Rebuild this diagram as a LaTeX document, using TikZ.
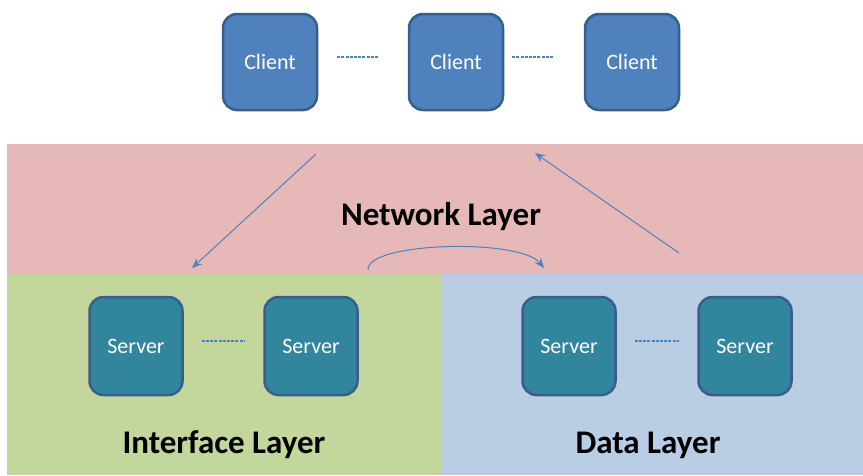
\documentclass[tikz,border=0pt]{standalone}
\usepackage{fontspec}
\setmainfont{Carlito}
\usetikzlibrary{arrows.meta}
\definecolor{netred}{HTML}{E6B9B8}
\definecolor{ifgreen}{HTML}{C3D69B}
\definecolor{datablue}{HTML}{B9CDE5}
\definecolor{clientfill}{HTML}{4F81BD}
\definecolor{clientedge}{HTML}{385D8A}
\definecolor{serverfill}{HTML}{31859C}
\definecolor{serveredge}{HTML}{3A5D8C}
\definecolor{linkblue}{HTML}{4F81BD}
\tikzset{
  clientbox/.style={draw=clientedge,fill=clientfill,line width=2.5pt,rounded corners=14pt,
    minimum width=94pt,minimum height=96pt,text=white,font=\fontsize{22}{26}\selectfont},
  serverbox/.style={draw=serveredge,fill=serverfill,line width=2.5pt,rounded corners=14pt,
    minimum width=93pt,minimum height=98pt,text=white,font=\fontsize{22}{26}\selectfont},
  layername/.style={font=\bfseries\fontsize{33}{38}\selectfont},
  dots/.style={draw=linkblue,dash pattern=on 3pt off 1.2pt,line width=1.3pt},
  flow/.style={draw=linkblue,line width=1pt,-{Stealth[length=10pt,width=8pt]}}
}
\begin{document}
\begin{tikzpicture}[x=1pt,y=-1pt]
      \useasboundingbox (0,0) rectangle (863,475);

      % layers
      \fill[netred] (7,144) rectangle (863,274);
      \fill[ifgreen] (7,274) rectangle (441,475);
      \fill[datablue] (441,274) rectangle (863,475);

      \path (441,217) node [layername](net_layer){Network Layer};
      \path (224,445) node [layername](if_layer){Interface Layer};
      \path (648,445) node [layername](data_layer){Data Layer};

      % clients
      \path (270,62) node [clientbox](client_a){Client};
      \path (456,62) node [clientbox](client_b){Client};
      \path (632,62) node [clientbox](client_c){Client};
      \draw[dots] ([xshift=19pt,yshift=5pt]client_a.east) -- ([xshift=-30pt,yshift=5pt]client_b.west);
      \draw[dots] ([xshift=8pt,yshift=5pt]client_b.east) -- ([xshift=-30pt,yshift=5pt]client_c.west);

      % servers
      \path (136,346) node [serverbox](server_a){Server};
      \path (311,346) node [serverbox](server_b){Server};
      \path (569,346) node [serverbox](server_c){Server};
      \path (745,346) node [serverbox](server_d){Server};
      \draw[dots] ([xshift=18pt,yshift=5pt]server_a.east) -- ([xshift=-18pt,yshift=5pt]server_b.west);
      \draw[dots] ([xshift=18pt,yshift=5pt]server_c.east) -- ([xshift=-18pt,yshift=5pt]server_d.west);

      % requests through the network layer
      \coordinate (req_in) at (316,154);
      \coordinate (req_out) at (192,268);
      \coordinate (resp_in) at (679,253);
      \coordinate (resp_out) at (535,153);
      \coordinate (hop_in) at (368,270);
      \coordinate (hop_out) at (544,268);
      \draw[flow] (req_in) -- (req_out);
      \draw[flow] (resp_in) -- (resp_out);
      \draw[flow] (hop_in) .. controls (366,242) and (520,238) .. (hop_out);

    \end{tikzpicture}
\end{document}
